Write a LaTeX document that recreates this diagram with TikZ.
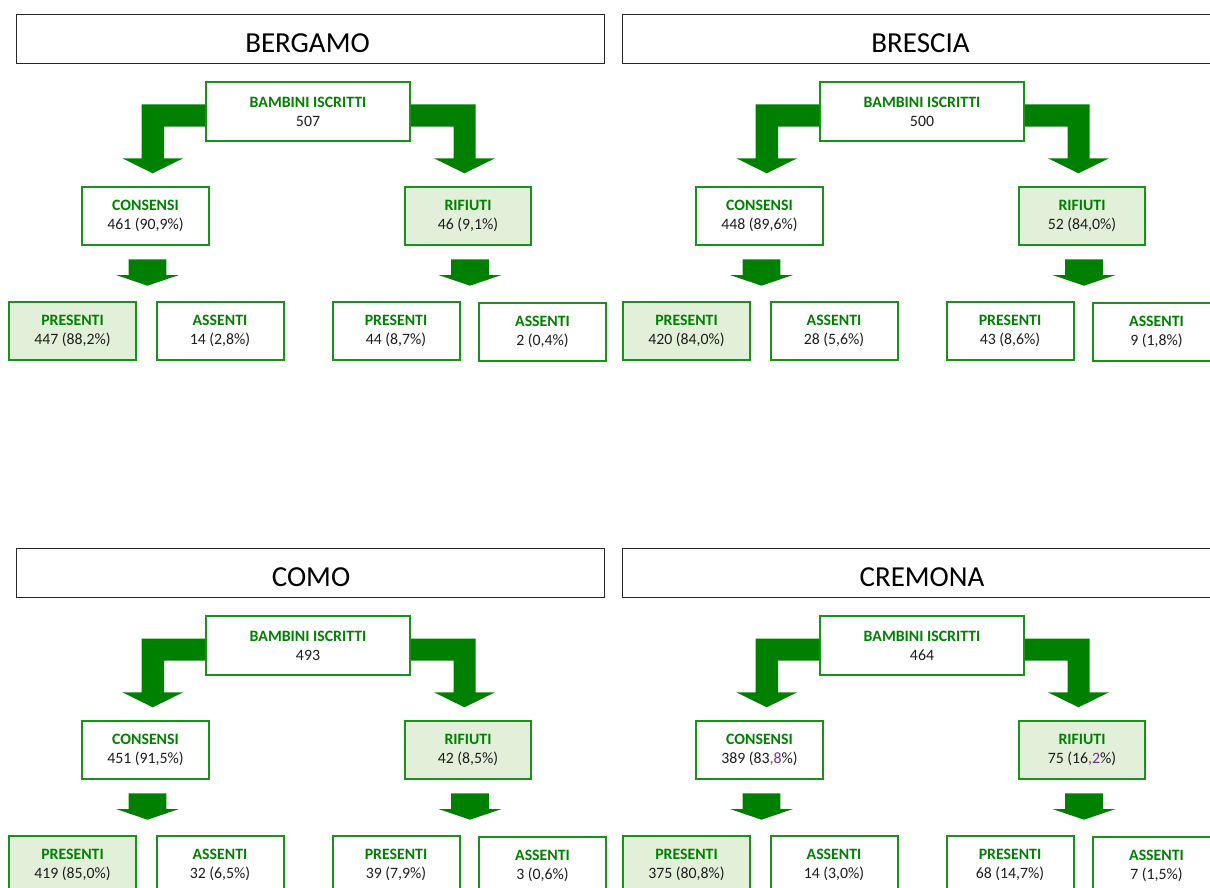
\documentclass[tikz,border=0pt]{standalone}
\usepackage{fontspec}
\setmainfont{Carlito}
\definecolor{arrowgreen}{RGB}{0,128,0}
\definecolor{boxgreen}{RGB}{24,146,24}
\definecolor{labgreen}{RGB}{0,128,0}
\definecolor{lightg}{RGB}{226,240,217}
\definecolor{numgray}{RGB}{30,30,30}
\definecolor{titlegray}{RGB}{40,40,40}
\definecolor{purp}{RGB}{112,48,160}
\tikzset{
  box/.style={draw=boxgreen, line width=2pt, fill=white, inner sep=0pt, align=center,
    minimum width=127pt, minimum height=58pt, font=\fontsize{15.8}{19}\selectfont, text=numgray},
  hl/.style={fill=lightg},
  blockarrow/.style={fill=arrowgreen, draw=none},
  titlebox/.style={draw=titlegray, line width=1.3pt, fill=white, inner sep=0pt,
    minimum height=48.7pt},
  titletext/.style={anchor=base, inner sep=0pt, font=\fontsize{29}{30}\selectfont, text=black},
}
\newcommand\lab[1]{\textcolor{labgreen}{\textbf{#1}}\\}
\newcommand\mypanel[8]{%
  \node[box, minimum width=204pt, minimum height=59pt] (#1-isc) at (308,111.5) {\lab{BAMBINI ISCRITTI}#2};
  \node[box] (#1-cons) at (145.5,215.5) {\lab{CONSENSI}#3};
  \node[box, hl, minimum width=126pt] (#1-rif) at (468,216) {\lab{RIFIUTI}#4};
  \node[box, hl] (#1-p1) at (72.5,330.5) {\lab{PRESENTI}#5};
  \node[box] (#1-a1) at (220,330.5) {\lab{ASSENTI}#6};
  \node[box] (#1-p2) at (396,330.5) {\lab{PRESENTI}#7};
  \node[box] (#1-a2) at (542.5,332) {\lab{ASSENTI}#8};
  % big L-shaped arrows from the top box
  \fill[blockarrow] (#1-isc.west |- 0,104.5) -- (141.5,104.5) -- (141.5,158.3) -- (122.3,158.3)
    -- (152.75,173.3) -- (183.2,158.3) -- (164,158.3) -- (164,126.7) -- (#1-isc.west |- 0,126.7) -- cycle;
  \fill[blockarrow] (#1-isc.east |- 0,104.5) -- (475.5,104.5) -- (475.5,158.3) -- (495,158.3)
    -- (464.5,173.3) -- (434,158.3) -- (453.5,158.3) -- (453.5,126.7) -- (#1-isc.east |- 0,126.7) -- cycle;
  % small down arrows
  \fill[blockarrow] (128.7,259.3) -- (166.3,259.3) -- (166.3,275) -- (179,275) -- (147.5,285.7)
    -- (116,275) -- (128.7,275) -- cycle;
  \fill[blockarrow] (451.2,259.3) -- (488.8,259.3) -- (488.8,275) -- (501.5,275) -- (470,285.7)
    -- (438.5,275) -- (451.2,275) -- cycle;
}
\begin{document}
\begin{tikzpicture}[x=1pt,y=-1pt]
  \useasboundingbox (0,0) rectangle (1210,888);
  \clip (0,0) rectangle (1210,888);
  \fill[white] (0,0) rectangle (1210,888);
  % titles
  \node[titlebox, minimum width=587.7pt] (t1) at (310.5,39) {};
  \node[titletext] (t1t) at (307.5,52.7) {BERGAMO};
  \node[titlebox, minimum width=601.7pt] (t2) at (923.5,39) {};
  \node[titletext] (t2t) at (920.5,52.7) {BRESCIA};
  \node[titlebox, minimum width=587.7pt] (t3) at (310.5,573) {};
  \node[titletext] (t3t) at (311,586.7) {COMO};
  \node[titlebox, minimum width=601.7pt] (t4) at (923.5,573) {};
  \node[titletext] (t4t) at (922,586.7) {CREMONA};
  % panels
  \begin{scope}
    \mypanel{bg}{507}{461 (90,9\%)}{46 (9,1\%)}{447 (88,2\%)}{14 (2,8\%)}{44 (8,7\%)}{2 (0,4\%)}
  \end{scope}
  \begin{scope}[shift={(614,0)}]
    \mypanel{bs}{500}{448 (89,6\%)}{52 (84,0\%)}{420 (84,0\%)}{28 (5,6\%)}{43 (8,6\%)}{9 (1,8\%)}
  \end{scope}
  \begin{scope}[shift={(0,534)}]
    \mypanel{co}{493}{451 (91,5\%)}{42 (8,5\%)}{419 (85,0\%)}{32 (6,5\%)}{39 (7,9\%)}{3 (0,6\%)}
  \end{scope}
  \begin{scope}[shift={(614,534)}]
    \mypanel{cr}{464}{389 (83\textcolor{purp}{,8}\%)}{75 (16\textcolor{purp}{,2}\%)}{375 (80,8\%)}{14 (3,0\%)}{68 (14,7\%)}{7 (1,5\%)}
  \end{scope}
\end{tikzpicture}
\end{document}
